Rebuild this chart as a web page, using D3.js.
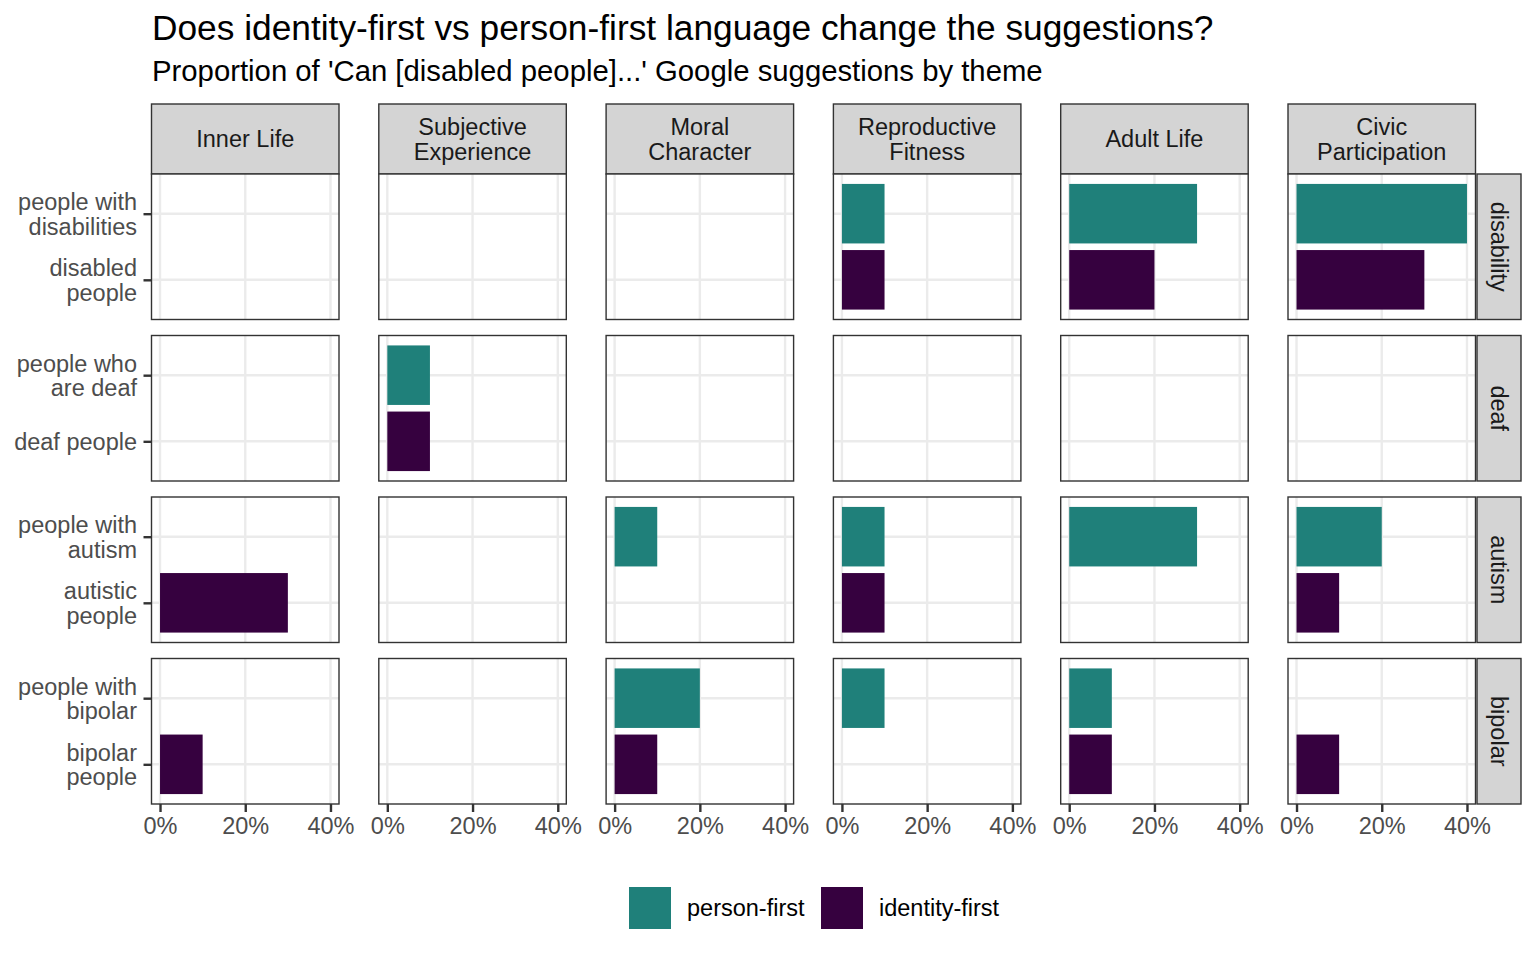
<!DOCTYPE html>
<html>
<head>
<meta charset="utf-8">
<script src="https://cdn.jsdelivr.net/npm/d3@7"></script>
<style>
  body { margin: 0; background: #ffffff; }
  svg { display: block; font-family: "Liberation Sans", Arial, Helvetica, sans-serif; }
</style>
</head>
<body>
<div id="chart"></div>
<script>
// themes (columns) and conditions (rows)
var themes = ["Inner Life", "Subjective\nExperience", "Moral\nCharacter", "Reproductive\nFitness", "Adult Life", "Civic\nParticipation"];
var conditions = ["disability", "deaf", "autism", "bipolar"];

// phrasing labels per condition
var personFirstLabels = ["people with\ndisabilities", "people who\nare deaf", "people with\nautism", "people with\nbipolar"];
var identityFirstLabels = ["disabled\npeople", "deaf people", "autistic\npeople", "bipolar\npeople"];

// share of suggestions per theme, one row per condition
var personFirstShare = [
  [0, 0, 0, 0.1, 0.3, 0.4],
  [0, 0.1, 0, 0, 0, 0],
  [0, 0, 0.1, 0.1, 0.3, 0.2],
  [0, 0, 0.2, 0.1, 0.1, 0]
];
var identityFirstShare = [
  [0, 0, 0, 0.1, 0.2, 0.3],
  [0, 0.1, 0, 0, 0, 0],
  [0.3, 0, 0, 0.1, 0, 0.1],
  [0.1, 0, 0.1, 0, 0.1, 0.1]
];

var xTicks = [0, 0.2, 0.4];
var seriesNames = ["person-first", "identity-first"];
var seriesColors = ["#1f807a", "#36013f"];

// -----------------------------------------------------------------
var W = 1536, H = 960;
var marginL = 151.5, stripTop = 104;
var pw = 187.5, ph = 145.5;
var gapX = 39.8, gapY = 16;
var stripH = 70, stripW = 44;
var fs = 23.5;

var svg = d3.select("#chart").append("svg")
  .attr("width", W).attr("height", H);

svg.append("rect").attr("width", W).attr("height", H).style("fill", "#ffffff");

// title + subtitle
svg.append("text")
  .attr("x", marginL + 0.5).attr("y", 39.5)
  .style("font-size", "35.3px").style("fill", "#000000")
  .text("Does identity-first vs person-first language change the suggestions?");
svg.append("text")
  .attr("x", marginL + 0.5).attr("y", 81)
  .style("font-size", "29.3px").style("fill", "#000000")
  .text("Proportion of 'Can [disabled people]...' Google suggestions by theme");

var x = d3.scaleLinear().domain([-0.02, 0.42]).range([0, pw]);
var panelTop = stripTop + stripH;

// split "a\nb" into stacked tspans centred on the text's y
function multiline(el, str, lineH) {
  var lines = str.split("\n");
  el.text(null);
  lines.forEach(function(l, k) {
    el.append("tspan")
      .attr("x", el.attr("x"))
      .attr("dy", k === 0 ? ((-(lines.length - 1) / 2) * lineH + fs * 0.35) + "px" : lineH + "px")
      .text(l);
  });
}

// top strips
themes.forEach(function(t, j) {
  var px = marginL + j * (pw + gapX);
  var g = svg.append("g").attr("transform", "translate(" + px + "," + stripTop + ")");
  g.append("rect")
    .attr("width", pw).attr("height", stripH)
    .style("fill", "#d4d4d4").style("stroke", "#333333").style("stroke-width", "1.4px");
  var tx = g.append("text")
    .attr("x", pw / 2).attr("y", stripH / 2)
    .attr("text-anchor", "middle")
    .style("font-size", fs + "px").style("fill", "#1a1a1a");
  multiline(tx, t, 25);
});

conditions.forEach(function(c, i) {
  var py = panelTop + i * (ph + gapY);
  var y = d3.scalePoint()
    .domain([personFirstLabels[i], identityFirstLabels[i]])
    .range([0, ph]).padding(0.6);
  var barH = y.step() * 0.9;

  themes.forEach(function(t, j) {
    var px = marginL + j * (pw + gapX);
    var g = svg.append("g").attr("transform", "translate(" + px + "," + py + ")");

    g.append("rect").attr("width", pw).attr("height", ph).style("fill", "#ffffff");

    // grid
    g.selectAll(".gx").data(xTicks).enter().append("line")
      .attr("x1", function(d) { return x(d); }).attr("x2", function(d) { return x(d); })
      .attr("y1", 0).attr("y2", ph)
      .style("stroke", "#ebebeb").style("stroke-width", "2.4px");
    g.selectAll(".gy").data(y.domain()).enter().append("line")
      .attr("x1", 0).attr("x2", pw)
      .attr("y1", function(d) { return y(d); }).attr("y2", function(d) { return y(d); })
      .style("stroke", "#ebebeb").style("stroke-width", "2.4px");

    // bars
    var vals = [
      { label: personFirstLabels[i], v: personFirstShare[i][j], s: 0 },
      { label: identityFirstLabels[i], v: identityFirstShare[i][j], s: 1 }
    ].filter(function(d) { return d.v > 0; });
    g.selectAll(".bar").data(vals).enter().append("rect")
      .attr("x", x(0))
      .attr("y", function(d) { return y(d.label) - barH / 2; })
      .attr("width", function(d) { return x(d.v) - x(0); })
      .attr("height", barH)
      .style("fill", function(d) { return seriesColors[d.s]; });

    // panel border
    g.append("rect").attr("width", pw).attr("height", ph)
      .style("fill", "none").style("stroke", "#333333").style("stroke-width", "1.4px");

    // y axis on first column
    if (j === 0) {
      var ay = g.append("g").call(d3.axisLeft(y).tickSize(8).tickPadding(6.5));
      ay.select(".domain").remove();
      ay.selectAll(".tick line").style("stroke", "#333333").style("stroke-width", "2.4px");
      ay.selectAll(".tick text")
        .style("font-size", fs + "px").style("fill", "#4d4d4d")
        .style("font-family", "\"Liberation Sans\", Arial, sans-serif")
        .attr("dy", null)
        .each(function(d) { multiline(d3.select(this), d, 24.5); });
    }

    // x axis on bottom row
    if (i === conditions.length - 1) {
      var ax = g.append("g").attr("transform", "translate(0," + ph + ")")
        .call(d3.axisBottom(x).tickValues(xTicks).tickFormat(d3.format(".0%")).tickSize(8).tickPadding(5.5));
      ax.select(".domain").remove();
      ax.selectAll(".tick line").style("stroke", "#333333").style("stroke-width", "2.4px");
      ax.selectAll(".tick text")
        .style("font-size", fs + "px").style("fill", "#4d4d4d")
        .style("font-family", "\"Liberation Sans\", Arial, sans-serif");
    }
  });

  // right strip
  var sx = marginL + 6 * pw + 5 * gapX + 1.5;
  var gs = svg.append("g").attr("transform", "translate(" + sx + "," + py + ")");
  gs.append("rect").attr("width", stripW).attr("height", ph)
    .style("fill", "#d4d4d4").style("stroke", "#333333").style("stroke-width", "1.4px");
  gs.append("text")
    .attr("transform", "translate(" + (stripW / 2) + "," + (ph / 2) + ") rotate(90)")
    .attr("text-anchor", "middle").attr("dy", (fs * 0.35) + "px")
    .style("font-size", fs + "px").style("fill", "#1a1a1a")
    .text(c);
});

// legend
var legend = svg.append("g").attr("transform", "translate(629,887)");
var legendX = [0, 192];
seriesNames.forEach(function(n, k) {
  var lg = legend.append("g").attr("transform", "translate(" + legendX[k] + ",0)");
  lg.append("rect").attr("width", 42).attr("height", 42).style("fill", seriesColors[k]);
  lg.append("text").attr("x", 58).attr("y", 21).attr("dy", (fs * 0.35) + "px")
    .style("font-size", fs + "px").style("fill", "#000000").text(n);
});
</script>
</body>
</html>
